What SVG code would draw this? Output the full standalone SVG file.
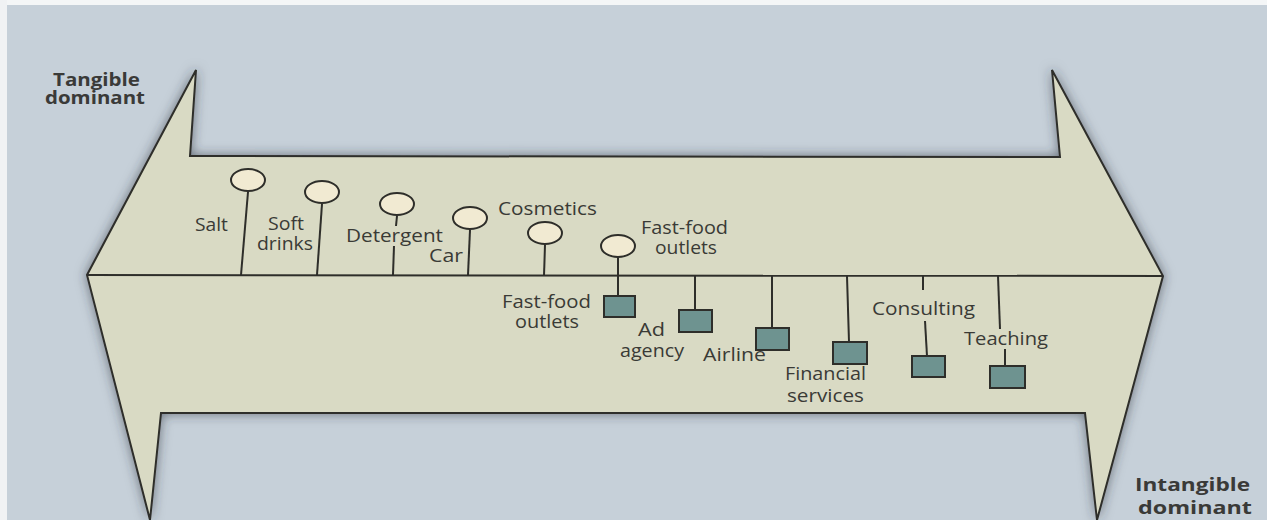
<svg xmlns="http://www.w3.org/2000/svg" width="1267" height="520" viewBox="0 0 1267 520">
<defs>
<filter id="sh" x="-10%" y="-10%" width="120%" height="120%">
<feDropShadow dx="0" dy="0" stdDeviation="6" flood-color="#2f363c" flood-opacity="0.6"/>
</filter>
</defs>
<style>
.ln{stroke:#2e2e2a;stroke-width:2;fill:none}
.pin{fill:#f1ead2;stroke:#2e2e2a;stroke-width:2}
.sq{fill:#6e9390;stroke:#2e2e2a;stroke-width:2}
.t{font-family:"Open Sans",Lato,sans-serif;font-size:18px;fill:#3a3a36}
.b{font-family:"Open Sans",Lato,sans-serif;font-size:17px;font-weight:bold;fill:#3a3a38}
</style>
<rect width="1267" height="520" fill="#c6d0d9"/>
<rect width="1267" height="5" fill="#f4f6f7"/>
<rect width="7" height="520" fill="#f0f2f4"/>
<g id="arrow">
<polygon points="196,70 190,156 1060,157 1052,70 1163,276 1097,520 1085,413 161,413 150,520 87,275" fill="#d9dac4" stroke="#2e2e2a" stroke-width="2" stroke-linejoin="miter" filter="url(#sh)"/>
<line class="ln" x1="87" y1="275" x2="1163" y2="276"/>
</g>
<g id="labels-ends">
<text class="b" x="53" y="86" textLength="87" lengthAdjust="spacingAndGlyphs">Tangible</text>
<text class="b" x="45" y="104" textLength="100" lengthAdjust="spacingAndGlyphs">dominant</text>
<text class="b" x="1135" y="491" textLength="115" lengthAdjust="spacingAndGlyphs">Intangible</text>
<text class="b" x="1138" y="514" textLength="114" lengthAdjust="spacingAndGlyphs">dominant</text>
</g>
<g id="connectors">
<line class="ln" x1="248" y1="192" x2="241" y2="275"/>
<line class="ln" x1="322" y1="204" x2="317" y2="275"/>
<line class="ln" x1="397" y1="216" x2="396" y2="226"/>
<line class="ln" x1="394" y1="246" x2="393" y2="275"/>
<line class="ln" x1="470" y1="230" x2="468" y2="275"/>
<line class="ln" x1="545" y1="245" x2="544" y2="276"/>
<line class="ln" x1="618" y1="258" x2="618" y2="296"/>
<line class="ln" x1="695" y1="276" x2="695" y2="310"/>
<line class="ln" x1="772" y1="276" x2="772" y2="328"/>
<line class="ln" x1="847" y1="276" x2="849" y2="342"/>
<line class="ln" x1="923" y1="276" x2="923" y2="290"/>
<line class="ln" x1="925" y1="321" x2="927" y2="356"/>
<line class="ln" x1="998" y1="276" x2="1000" y2="329"/>
<line class="ln" x1="1005" y1="349" x2="1005" y2="366"/>
</g>
<g id="salt"><ellipse class="pin" cx="248" cy="180" rx="17" ry="11"/><text class="t" x="195" y="231" textLength="33" lengthAdjust="spacingAndGlyphs">Salt</text></g>
<g id="soft-drinks"><ellipse class="pin" cx="322" cy="192" rx="17" ry="11"/><text class="t" x="268" y="230" textLength="36" lengthAdjust="spacingAndGlyphs">Soft</text><text class="t" x="257" y="250" textLength="56" lengthAdjust="spacingAndGlyphs">drinks</text></g>
<g id="detergent"><ellipse class="pin" cx="397" cy="204" rx="17" ry="11"/><text class="t" x="346" y="242" textLength="97" lengthAdjust="spacingAndGlyphs">Detergent</text></g>
<g id="car"><ellipse class="pin" cx="470" cy="218" rx="17" ry="11"/><text class="t" x="429" y="262" textLength="34" lengthAdjust="spacingAndGlyphs">Car</text></g>
<g id="cosmetics"><ellipse class="pin" cx="545" cy="233" rx="17" ry="11"/><text class="t" x="498" y="215" textLength="99" lengthAdjust="spacingAndGlyphs">Cosmetics</text></g>
<g id="fastfood-goods"><ellipse class="pin" cx="618" cy="246" rx="17" ry="11"/><text class="t" x="641" y="234" textLength="87" lengthAdjust="spacingAndGlyphs">Fast-food</text><text class="t" x="655" y="254" textLength="62" lengthAdjust="spacingAndGlyphs">outlets</text></g>
<g id="fastfood-service"><rect class="sq" x="604" y="296" width="31" height="21"/><text class="t" x="502" y="308" textLength="89" lengthAdjust="spacingAndGlyphs">Fast-food</text><text class="t" x="515" y="328" textLength="64" lengthAdjust="spacingAndGlyphs">outlets</text></g>
<g id="ad-agency"><rect class="sq" x="679" y="310" width="33" height="22"/><text class="t" x="638" y="336" textLength="27" lengthAdjust="spacingAndGlyphs">Ad</text><text class="t" x="620" y="357" textLength="64" lengthAdjust="spacingAndGlyphs">agency</text></g>
<g id="airline"><rect class="sq" x="756" y="328" width="33" height="22"/><text class="t" x="703" y="361" textLength="63" lengthAdjust="spacingAndGlyphs">Airline</text></g>
<g id="financial"><rect class="sq" x="833" y="342" width="34" height="22"/><text class="t" x="785" y="380" textLength="81" lengthAdjust="spacingAndGlyphs">Financial</text><text class="t" x="787" y="402" textLength="77" lengthAdjust="spacingAndGlyphs">services</text></g>
<g id="consulting"><rect class="sq" x="912" y="356" width="33" height="21"/><text class="t" x="872" y="315" textLength="103" lengthAdjust="spacingAndGlyphs">Consulting</text></g>
<g id="teaching"><rect class="sq" x="990" y="366" width="35" height="22"/><text class="t" x="964" y="345" textLength="84" lengthAdjust="spacingAndGlyphs">Teaching</text></g>
</svg>
